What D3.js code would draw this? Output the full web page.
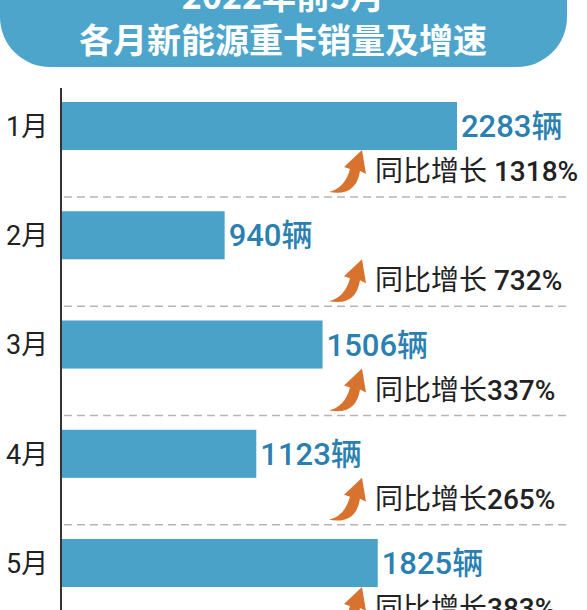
<!DOCTYPE html>
<html>
<head>
<meta charset="utf-8">
<script src="https://cdn.jsdelivr.net/npm/d3@7"></script>
<style>
  html, body { margin: 0; padding: 0; background: #fff; overflow: hidden; }
  svg { display: block; }
</style>
</head>
<body>
<svg width="587" height="610"></svg>
<script>
// data
const months = ['1月', '2月', '3月', '4月', '5月'];
const sales = [2283, 940, 1506, 1123, 1825];
const growth = [1318, 732, 337, 265, 383];
const growthGap = [' ', ' ', '', '', ''];
const titleLines = ['2022年前5月', '各月新能源重卡销量及增速'];

const svg = d3.select('svg'),
      width = +svg.attr('width'),
      height = +svg.attr('height'),
      font = 'Roboto, "Liberation Sans", "Noto Sans CJK SC", sans-serif';

const rows = months.map((m, i) => ({month: m, sales: sales[i], growth: growth[i], gap: growthGap[i]}));

// title banner
svg.append('rect')
    .attr('x', 0).attr('y', -60)
    .attr('width', 567).attr('height', 127)
    .attr('rx', 50).attr('ry', 50)
    .attr('fill', '#4ea5cb');

svg.selectAll('.title')
  .data(titleLines)
  .enter().append('text')
    .attr('class', 'title')
    .attr('x', 283)
    .attr('y', (d, i) => 9 + i * 44)
    .attr('text-anchor', 'middle')
    .attr('fill', '#fff')
    .attr('font-family', '"Noto Sans CJK SC", sans-serif')
    .attr('font-weight', 'bold')
    .attr('font-size', 34)
    .text(d => d);

// scales
const x = d3.scaleLinear()
            .domain([0, d3.max(sales)])
            .range([62, 457]);
const y = d3.scaleBand()
            .domain(months)
            .range([71.4, 617.65])
            .paddingInner(0.56)
            .paddingOuter(0.28);
const bw = y.bandwidth();

// dashed separators
svg.selectAll('.sep')
  .data(rows)
  .enter().append('line')
    .attr('class', 'sep')
    .attr('x1', 64).attr('x2', 567)
    .attr('y1', d => y(d.month) + bw + 47)
    .attr('y2', d => y(d.month) + bw + 47)
    .attr('stroke', '#b5b5b5')
    .attr('stroke-width', 1.5)
    .attr('stroke-dasharray', '8,5');

// bars
svg.selectAll('.bar')
  .data(rows)
  .enter().append('rect')
    .attr('class', 'bar')
    .attr('x', x(0))
    .attr('y', d => y(d.month))
    .attr('width', d => x(d.sales) - x(0))
    .attr('height', bw)
    .attr('fill', '#4aa2c8');

// month axis
const axis = svg.append('g')
    .attr('transform', 'translate(61,0)')
    .call(d3.axisLeft(y).tickSize(0));
axis.select('.domain').remove();
axis.selectAll('text')
    .attr('x', -55)
    .attr('dy', '0.36em')
    .attr('text-anchor', 'start')
    .attr('fill', '#222')
    .attr('font-family', font)
    .attr('font-size', 27);

svg.append('line')
    .attr('x1', 61).attr('x2', 61)
    .attr('y1', 88).attr('y2', height)
    .attr('stroke', '#333')
    .attr('stroke-width', 2);

// value labels
svg.selectAll('.val')
  .data(rows)
  .enter().append('text')
    .attr('class', 'val')
    .attr('x', d => x(d.sales) + 4)
    .attr('y', d => y(d.month) + bw / 2)
    .attr('dy', '0.36em')
    .attr('fill', '#2a80b0')
    .attr('font-family', font)
    .attr('font-weight', 500)
    .attr('font-size', 31)
    .text(d => d.sales + '辆');

// growth arrows
svg.selectAll('.arrow')
  .data(rows)
  .enter().append('path')
    .attr('class', 'arrow')
    .attr('transform', d => 'translate(329,' + (y(d.month) + bw + 42) + ')')
    .attr('d', 'M0,0 Q16,-4 21,-23 L15,-25 L33,-42 L37,-18 L31,-21 Q27,5 0,0 Z')
    .attr('fill', '#d8732f');

// growth labels
const g = svg.selectAll('.growth')
  .data(rows)
  .enter().append('text')
    .attr('class', 'growth')
    .attr('x', 375)
    .attr('y', d => y(d.month) + bw + 21)
    .attr('dy', '0.36em')
    .attr('fill', '#222')
    .attr('font-family', font)
    .attr('font-size', 28);
g.append('tspan').text(d => '同比增长' + d.gap);
g.append('tspan').attr('font-weight', 500).text(d => d.growth + '%');
</script>
</body>
</html>
